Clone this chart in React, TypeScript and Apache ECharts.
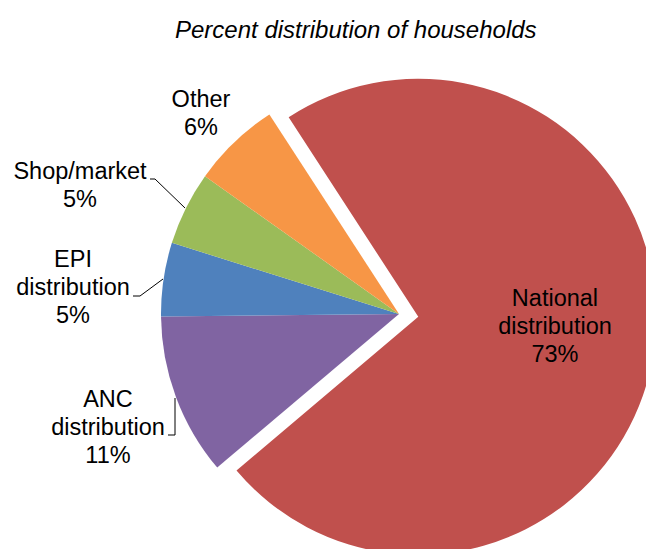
import React, { useEffect, useRef } from "react";
import * as echarts from "echarts";

const categories = ["National distribution", "ANC distribution", "EPI distribution", "Shop/market", "Other"];
const percents = [73, 11, 5, 5, 6];
const colors = ["#C0504D", "#8064A2", "#4F81BD", "#9BBB59", "#F79646"];
const titleText = "Percent distribution of households";

// label layout (text positions and leader lines)
const labelPos: Record<string, { x: number; y: number; line?: number[][] }> = {
  "ANC distribution": { x: 108, y: 427, line: [[175, 398], [175, 435], [168, 435]] },
  "EPI distribution": { x: 73, y: 287, line: [[163, 279], [140, 296], [133, 296]] },
  "Shop/market": { x: 80, y: 185, line: [[185, 208], [155, 179], [150, 179]] },
  Other: { x: 201, y: 113 },
};
// the large slice keeps its label inside, nudged from the default spot
const insideShift = { dx: 16, dy: -9 };

const FONT = "'Liberation Sans', Arial, sans-serif";

export default function App() {
  const ref = useRef<HTMLDivElement>(null);
  useEffect(() => {
    document.body.style.margin = "0";
    if (!ref.current) return;
    const chart = echarts.init(ref.current, undefined, { renderer: "svg" });
    const data = categories.map((name, i) => ({
      name,
      value: percents[i],
      selected: i === 0,
      itemStyle: { color: colors[i] },
      label: i === 0 ? { position: "inside" } : undefined,
      labelLine: { show: !!(labelPos[name] && labelPos[name].line) },
    }));
    chart.setOption({
      animation: false,
      title: {
        text: titleText,
        left: 175,
        top: 15,
        padding: 0,
        textStyle: {
          fontFamily: FONT,
          fontStyle: "italic",
          fontWeight: "normal",
          fontSize: 24,
          lineHeight: 28,
          color: "#000",
        },
      },
      series: [
        {
          type: "pie",
          center: [399, 314],
          radius: 238,
          startAngle: 123,
          clockwise: true,
          selectedMode: "single",
          selectedOffset: 19.5,
          silent: true,
          emphasis: { disabled: true },
          itemStyle: { borderWidth: 0 },
          label: {
            show: true,
            position: "outside",
            overflow: "none",
            fontFamily: FONT,
            fontSize: 23.5,
            lineHeight: 28,
            color: "#000",
            align: "center",
            formatter: (p: any) => p.name.replace(" ", "\n") + "\n" + p.value + "%",
          },
          labelLine: { show: true, lineStyle: { color: "#000", width: 1 } },
          labelLayout: (params: any) => {
            const name = categories[params.dataIndex];
            const pos = labelPos[name];
            if (!pos) return { dx: insideShift.dx, dy: insideShift.dy };
            const res: any = {
              x: pos.x,
              y: pos.y,
              align: "center",
              verticalAlign: "middle",
            };
            if (pos.line) res.labelLinePoints = pos.line;
            return res;
          },
          data,
        },
      ],
    });
    return () => chart.dispose();
  }, []);
  return <div ref={ref} style={{ width: 646, height: 549 }} />;
}
